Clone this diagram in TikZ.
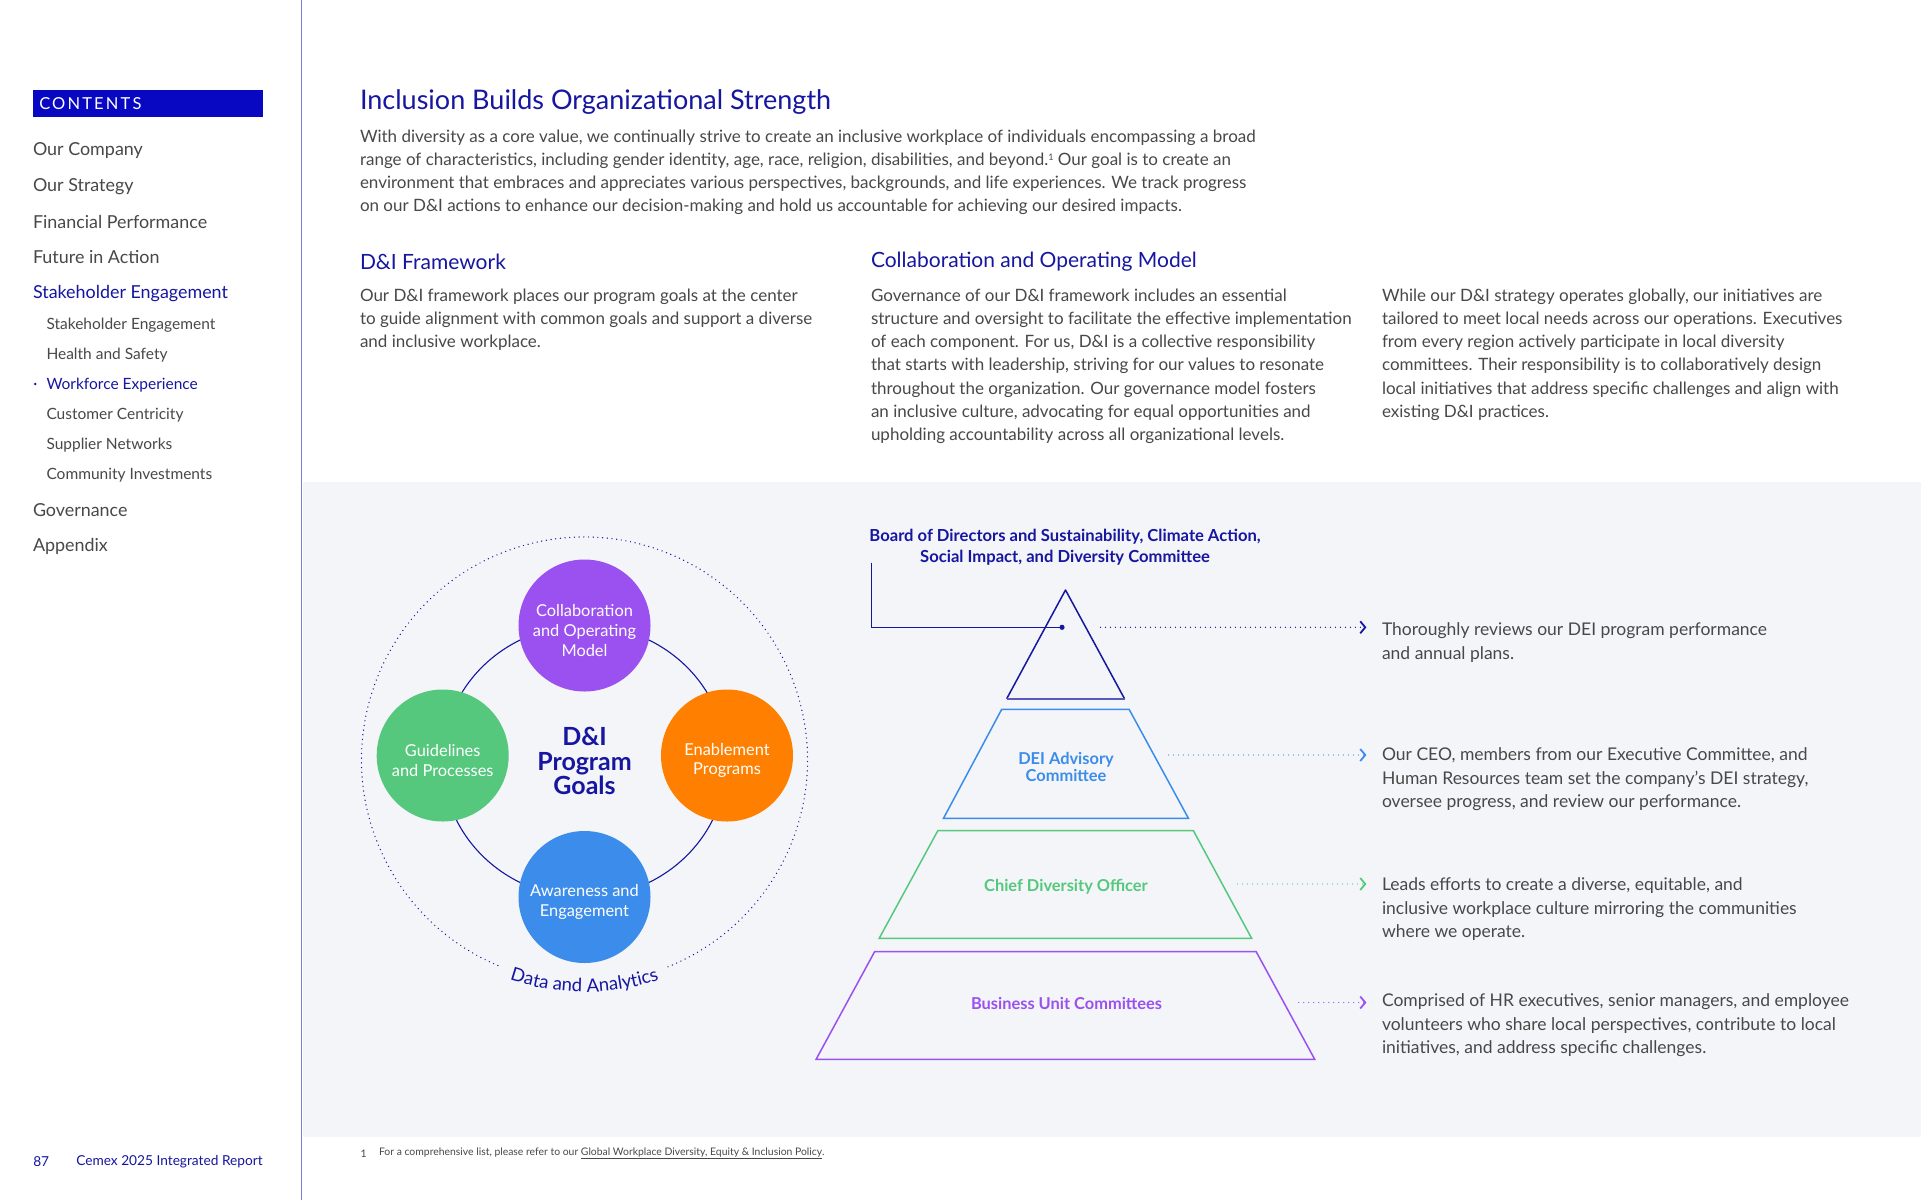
\documentclass[tikz,border=0pt]{standalone}
\usepackage{fontspec}
\setmainfont{Lato}
\usetikzlibrary{arrows.meta,decorations.text}
\definecolor{navy}{RGB}{22,22,160}
\definecolor{boxblue}{RGB}{8,8,195}
\definecolor{bodygray}{RGB}{72,72,72}
\definecolor{panel}{RGB}{243,245,248}
\definecolor{sideline}{RGB}{125,125,212}
\definecolor{cpurple}{RGB}{155,80,240}
\definecolor{cgreen}{RGB}{85,200,125}
\definecolor{corange}{RGB}{255,128,0}
\definecolor{cblue}{RGB}{60,140,235}
\definecolor{basecol}{RGB}{90,90,190}
\newcommand\dafont{\fontsize{18.5}{18.5}\selectfont}
\tikzset{
  sideitem/.style={anchor=west, text=bodygray, font=\fontsize{17.9}{20}\selectfont},
  subitem/.style={anchor=west, text=bodygray, font=\fontsize{15.5}{17}\selectfont},
  head/.style={anchor=west, text=navy, font=\fontsize{21}{24}\selectfont},
  para/.style={anchor=north west, align=left, text=bodygray, font=\fontsize{17}{23.3}\selectfont},
  rtext/.style={anchor=north west, align=left, text=bodygray, font=\fontsize{17.5}{23.5}\selectfont},
  circ/.style={circle, minimum size=132pt},
  circtext/.style={text=white, align=center, font=\fontsize{16.4}{19.6}\selectfont, yshift=-5pt},
  plabel/.style={align=center, font=\bfseries\fontsize{16.4}{17.5}\selectfont},
  dotline/.style={line width=1.3pt, dash pattern=on 0pt off 5pt, line cap=round},
  chev/.style={-{Straight Barb[length=5pt,width=12pt,line width=1.8pt]}},
}
\begin{document}
\begin{tikzpicture}[x=1pt,y=-1pt, every node/.style={inner sep=0pt, outer sep=0pt}]
\useasboundingbox (0,0) rectangle (1921,1200);
\fill[white] (0,0) rectangle (1921,1200);
% gray panel and sidebar line
\fill[panel] (302.5,481.5) rectangle (1921,1136.5);
\draw[sideline, line width=1.6pt] (301.5,0) -- (301.5,1200);
% sidebar
\fill[boxblue] (32.7,90) rectangle (262.7,117.3);
\node[anchor=west, text=white, font=\fontsize{16.5}{18}\selectfont\addfontfeature{LetterSpace=13}] (contents) at (39.3,104) {CONTENTS};
\node[sideitem] (s1) at (33,151) {Our Company};
\node[sideitem] (s2) at (33,186.5) {Our Strategy};
\node[sideitem] (s3) at (33,221.7) {Financial Performance};
\node[sideitem] (s4) at (33,257.5) {Future in Action};
\node[sideitem, text=navy] (s5) at (33,293.3) {Stakeholder Engagement};
\node[subitem] (u1) at (46.5,325) {Stakeholder Engagement};
\node[subitem] (u2) at (46.5,355) {Health and Safety};
\fill[navy] (35.3,384) circle (1.4);
\node[subitem, text=navy] (u3) at (46.5,385) {Workforce Experience};
\node[subitem] (u4) at (46.5,415) {Customer Centricity};
\node[subitem] (u5) at (46.5,445) {Supplier Networks};
\node[subitem] (u6) at (46.5,475) {Community Investments};
\node[sideitem] (s6) at (33,510) {Governance};
\node[sideitem] (s7) at (33,546) {Appendix};
\node[anchor=west, text=navy, font=\fontsize{13.7}{16}\selectfont] (pg) at (33.3,1162) {87};
\node[anchor=west, text=navy, font=\fontsize{13.7}{16}\selectfont] (rep) at (76.3,1162) {Cemex 2025 Integrated Report};
% title and intro
\node[anchor=west, text=navy, font=\fontsize{27}{30}\selectfont] (title) at (360,102) {Inclusion Builds Organizational Strength};
\node[para] (intro) at (360,129.5) {With diversity as a core value, we continually strive to create an inclusive workplace of individuals encompassing a broad\\
range of characteristics, including gender identity, age, race, religion, disabilities, and beyond.\raisebox{0.55ex}{\fontsize{9}{9}\selectfont 1} Our goal is to create an\\
environment that embraces and appreciates various perspectives, backgrounds, and life experiences. We track progress\\
on our D\&I actions to enhance our decision-making and hold us accountable for achieving our desired impacts.};
\node[head] (h1) at (360,262) {D\&I Framework};
\node[head] (h2) at (871,262) {Collaboration and Operating Model};
\node[para] (c1) at (360,288.5) {Our D\&I framework places our program goals at the center\\
to guide alignment with common goals and support a diverse\\
and inclusive workplace.};
\node[para] (c2) at (871,288.5) {Governance of our D\&I framework includes an essential\\
structure and oversight to facilitate the effective implementation\\
of each component. For us, D\&I is a collective responsibility\\
that starts with leadership, striving for our values to resonate\\
throughout the organization. Our governance model fosters\\
an inclusive culture, advocating for equal opportunities and\\
upholding accountability across all organizational levels.};
\node[para] (c3) at (1382,288.5) {While our D\&I strategy operates globally, our initiatives are\\
tailored to meet local needs across our operations. Executives\\
from every region actively participate in local diversity\\
committees. Their responsibility is to collaboratively design\\
local initiatives that address specific challenges and align with\\
existing D\&I practices.};
% circle diagram
\begin{scope}[shift={(584.5,760)}, y=1pt]
\draw[navy, dotline, line width=1.4pt, dash pattern=on 0pt off 4.7pt] (292:223) arc[start angle=292, end angle=608, radius=223];
\path[decorate, decoration={text along path, text={|\dafont|Data and Analytics}, text align=center, text color=navy}] (247:232) arc[start angle=247, end angle=293, radius=232];
\end{scope}
\draw[navy, line width=1.1pt] (584.5,761.25) ellipse[x radius=142, y radius=136];
\node[circ, fill=cpurple] (collab) at (584.5,625.5) {};
\node[circ, fill=cgreen] (guide) at (442.7,755.5) {};
\node[circ, fill=corange] (enable) at (727,755.5) {};
\node[circ, fill=cblue] (aware) at (584.5,897) {};
\node[circtext] (collabt) at (collab) {Collaboration\\and Operating\\Model};
\node[circtext] (guidet) at (guide) {Guidelines\\and Processes};
\node[circtext] (enablet) at (enable) {Enablement\\Programs};
\node[circtext] (awaret) at (aware) {Awareness and\\Engagement};
\node[align=center, text=navy, font=\bfseries\fontsize{25}{24.5}\selectfont] (goals) at (584.5,761) {D\&I\\Program\\Goals};
% pyramid
\node[plabel, text=navy, font=\bfseries\fontsize{16.6}{21}\selectfont] (board) at (1065,547) {Board of Directors and Sustainability, Climate Action,\\Social Impact, and Diversity Committee};
\draw[navy, line width=1.5pt, line join=round] (1006.7,698.7) -- (1065.5,590) -- (1124.5,698.7);
\draw[basecol, line width=2.4pt] (1006.7,698.7) -- (1124.5,698.7);
\draw[cblue, line width=1.5pt] (1001.7,709.3) -- (1129.1,709.3) -- (1188.4,818.3) -- (943.5,818.3) -- cycle;
\draw[cgreen, line width=1.5pt] (937.8,830.7) -- (1193.4,830.7) -- (1251.6,938.3) -- (879.2,938.3) -- cycle;
\draw[cpurple, line width=1.5pt] (874.6,951.7) -- (1256.2,951.7) -- (1314.7,1059.3) -- (816.1,1059.3) -- cycle;
\node[plabel, text=cblue] (dei) at (1066,767) {DEI Advisory\\Committee};
\node[plabel, text=cgreen] (cdo) at (1066,886.5) {Chief Diversity Officer};
\node[plabel, text=cpurple] (buc) at (1066.5,1003) {Business Unit Committees};
% bracket from board
\coordinate (bk) at (871.6,562.7);
\coordinate (bdot) at (1062,627.3);
\draw[navy, line width=1.5pt] (bk) |- (bdot);
\fill[navy] (bdot) circle (2.6);
% right texts
\node[rtext] (t1) at (1382,623) {Thoroughly reviews our DEI program performance\\and annual plans.};
\node[rtext] (t2) at (1382,748) {Our CEO, members from our Executive Committee, and\\Human Resources team set the company’s DEI strategy,\\oversee progress, and review our performance.};
\node[rtext] (t3) at (1382,878) {Leads efforts to create a diverse, equitable, and\\inclusive workplace culture mirroring the communities\\where we operate.};
\node[rtext] (t4) at (1382,994) {Comprised of HR executives, senior managers, and employee\\volunteers who share local perspectives, contribute to local\\initiatives, and address specific challenges.};
% connectors
\coordinate (a1s) at (1100.4,627.3); \coordinate (a1e) at (1366.4,627.3);
\coordinate (a2s) at (1168.5,755);   \coordinate (a2e) at (1366.4,755);
\coordinate (a3s) at (1237.4,884);   \coordinate (a3e) at (1366.4,884);
\coordinate (a4s) at (1298.7,1002.5); \coordinate (a4e) at (1366.4,1002.5);
\draw[navy, dotline, chev] (a1s) -- (a1e);
\draw[cblue, dotline, chev] (a2s) -- (a2e);
\draw[cgreen, dotline, chev] (a3s) -- (a3e);
\draw[cpurple, dotline, chev] (a4s) -- (a4e);
% footnote
\node[anchor=west, text=bodygray, font=\fontsize{10.4}{12}\selectfont] (fn1) at (360.5,1153.3) {1};
\node[anchor=west, text=bodygray, font=\fontsize{10.4}{12}\selectfont] (fn) at (379,1153.3) {For a comprehensive list, please refer to our \underline{Global Workplace Diversity, Equity \& Inclusion Policy}.};
\end{tikzpicture}
\end{document}
